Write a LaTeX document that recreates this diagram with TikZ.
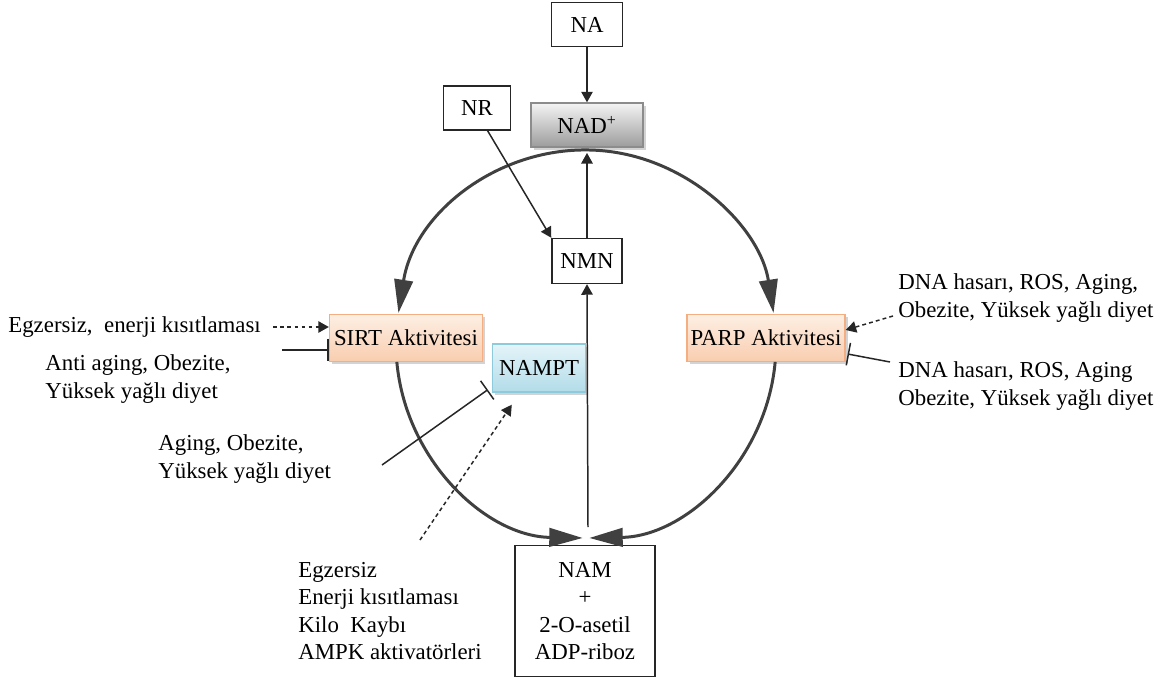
\documentclass[tikz,border=0pt]{standalone}
\usepackage{fontspec}
\setmainfont{Liberation Serif}
\usetikzlibrary{arrows.meta, positioning, shadows, calc}

\definecolor{ringgray}{HTML}{404040}
\definecolor{sirttop}{HTML}{FDEFE4}
\definecolor{sirtbot}{HTML}{F9CDAE}
\definecolor{sirtline}{HTML}{F4AE82}
\definecolor{nampttop}{HTML}{E4F4F9}
\definecolor{namptbot}{HTML}{B2DCE8}
\definecolor{namptline}{HTML}{8CCADC}
\definecolor{nadtop}{HTML}{F4F4F4}
\definecolor{nadbot}{HTML}{9C9C9C}

\begin{document}
\begin{tikzpicture}[x=0.02cm, y=-0.02cm,
  font=\fontsize{13}{15.5}\selectfont,
  box/.style={rectangle, draw=black!85, line width=0.8pt, fill=white,
              inner sep=2pt, align=center},
  glossy/.style={rectangle, line width=0.8pt, inner sep=2pt,
                 drop shadow={shadow xshift=1.6pt, shadow yshift=-1.6pt, opacity=0.35}},
  actbox/.style={glossy, draw=sirtline, top color=sirttop, bottom color=sirtbot,
                 minimum height=0.94cm},
  namptbox/.style={glossy, draw=namptline, top color=nampttop, bottom color=namptbot,
                   minimum width=1.86cm, minimum height=0.96cm},
  nadbox/.style={glossy, draw=black!45, top color=nadtop, bottom color=nadbot,
                 minimum width=2.24cm, minimum height=0.88cm},
  txt/.style={anchor=west, align=left, inner sep=0pt},
  ring/.style={line width=1.7pt, draw=ringgray},
  bigtip/.style={-{Triangle[length=19pt, width=10.5pt]}},
  arrow/.style={-{Triangle[length=6pt, width=6.5pt]}, line width=0.85pt, draw=black!85},
  act/.style={arrow, dash pattern=on 2.2pt off 1.8pt},
  inhib/.style={-{Bar[width=13pt]}, line width=0.85pt, draw=black!85},
]
  \useasboundingbox (0,0) rectangle (1174,679);

  % cycle nodes
  \node[nadbox] (nad) at (587,125) {NAD\textsuperscript{+}};
  \node[box, minimum width=1.42cm, minimum height=0.88cm, above=1.1cm of nad] (na) {NA};
  \node[box, minimum width=1.34cm, minimum height=0.88cm] (nr) at (477,108) {NR};
  \node[box, minimum width=1.4cm, minimum height=0.9cm] (nmn) at (587,261) {NMN};
  \node[actbox, minimum width=3.06cm] (sirt) at (406,338) {SIRT Aktivitesi};
  \node[namptbox] (nampt) at (539,368) {NAMPT};
  \node[actbox, minimum width=3.14cm] (parp) at (766,338) {PARP Aktivitesi};
  \node[box, minimum width=2.8cm, minimum height=2.62cm] (nam) at (585,611)
    {NAM\\+\\2-O-asetil\\ADP-riboz};

  % side texts
  \node[txt] (egz) at (8,327) {Egzersiz,~ enerji kısıtlaması};
  \node[txt] (anti) at (45,379) {Anti aging, Obezite,\\Yüksek yağlı diyet};
  \node[txt] (aging) at (158,459) {Aging, Obezite,\\Yüksek yağlı diyet};
  \node[txt] (ampk) at (298,611) {Egzersiz\\Enerji kısıtlaması\\Kilo~ Kaybı\\AMPK aktivatörleri};
  \node[txt] (dnaup) at (898,298) {DNA hasarı, ROS, Aging,\\Obezite, Yüksek yağlı diyet};
  \node[txt] (dnalow) at (898,386) {DNA hasarı, ROS, Aging\\Obezite, Yüksek yağlı diyet};

  \coordinate (c) at (586,344);
  \coordinate (meet) at (588,527);
  \coordinate (antiend) at (282,350);
  \coordinate (agingend) at (382,465);
  \coordinate (ampkend) at (420,540);
  \coordinate (dnaupend) at (893,316);
  \coordinate (dnalowend) at (890,362);

  % ring
  \draw[ring, {Triangle[length=19pt, width=10.5pt]}-{Triangle[length=19pt, width=10.5pt]}]
    ($(c)+(189.2:190 and 194)$) arc[start angle=189.2, end angle=350.8, x radius=190, y radius=194];
  \draw[ring, bigtip] ($(c)+(174.7:190 and 194)$)
    arc[start angle=174.7, end angle=91, x radius=190, y radius=194];
  \draw[ring, bigtip] ($(c)+(5.3:190 and 194)$)
    arc[start angle=5.3, end angle=89, x radius=190, y radius=194];

  % pathway
  \draw[arrow] (na) -- (nad);
  \draw[arrow] (nr.-65) -- (nmn.north west);
  \draw[arrow] (meet) -- (nmn.south);
  \draw[arrow, shorten >=3pt] (nmn.north) -- (nad.south);

  % effectors
  \draw[act] ([xshift=7pt]egz.east) -- (egz.east -| sirt.west);
  \draw[inhib] (antiend) -- (antiend -| sirt.west);
  \draw[inhib] (agingend) -- ($(nampt.south west)+(-4,-3)$);
  \draw[act] (ampkend) -- ($(nampt.south west)+(20,12)$);
  \draw[act] (dnaupend) -- ($(parp.east)+(0,-8)$);
  \draw[inhib] (dnalowend) -- ($(parp.east)+(2,16)$);
\end{tikzpicture}
\end{document}
